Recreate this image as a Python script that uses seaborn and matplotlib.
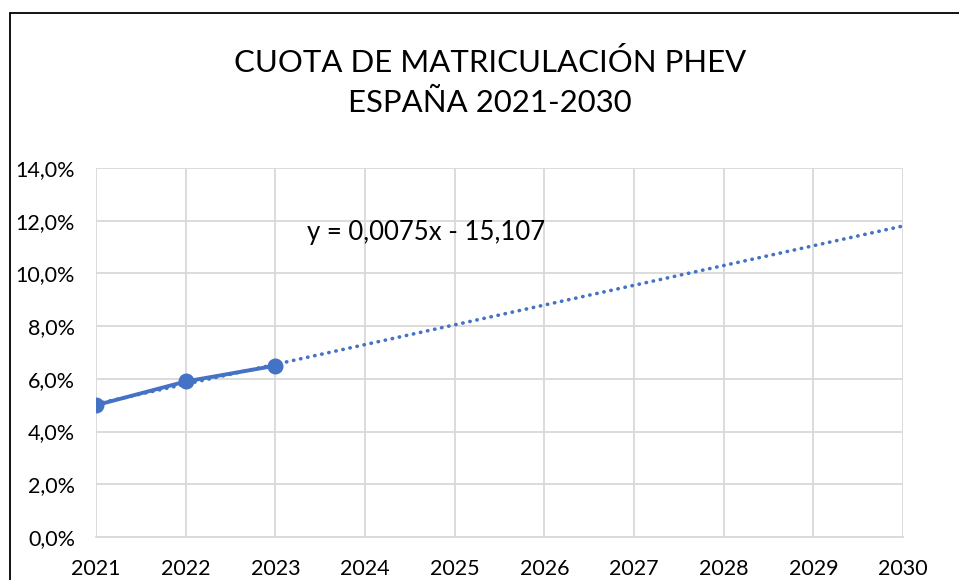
import numpy as np
import pandas as pd
import matplotlib
matplotlib.use("Agg")
import matplotlib.pyplot as plt
import seaborn as sns
from matplotlib.patches import Rectangle
from matplotlib.ticker import FuncFormatter

years = [2021, 2022, 2023]
share = [0.050, 0.059, 0.065]
axis_years = list(range(2021, 2031))
title_lines = ["CUOTA DE MATRICULACIÓN PHEV", "ESPAÑA 2021-2030"]
equation_label = "y = 0,0075x - 15,107"

sns.set_theme(style="white")
plt.rcParams["font.family"] = ["Lato", "DejaVu Sans"]

fig = plt.figure(figsize=(9.59, 5.80), dpi=100)
ax = fig.add_axes([96/959, 1 - 537/580, (903 - 96)/959, (537 - 168)/580])

blue = "#4472C4"
grid = "#D9D9D9"

# trendline (linear fit of data, extended to 2030)
slope, intercept = np.polyfit(years, share, 1)
trend = pd.DataFrame({"year": axis_years,
                      "val": [slope * x + intercept for x in axis_years]})
sns.lineplot(data=trend, x="year", y="val", ax=ax, color=blue, lw=2.6,
             linestyle=(0, (0.1, 1.9)), dash_capstyle="round", zorder=3)

df = pd.DataFrame({"year": years, "val": share})
sns.lineplot(data=df, x="year", y="val", ax=ax, color=blue, lw=2.8,
             marker="o", markersize=11.5, markeredgewidth=0, zorder=4)

ax.set_xlim(2021, 2030)
ax.set_ylim(0, 0.14)
ax.set_xticks(axis_years)
ax.set_yticks(np.arange(0, 0.1401, 0.02))
ax.yaxis.set_major_formatter(FuncFormatter(lambda v, p: f"{v*100:.1f}%".replace(".", ",")))
ax.grid(True, color=grid, lw=1.3)
for s in ax.spines.values():
    s.set_visible(False)
ax.spines["bottom"].set_visible(True)
ax.spines["bottom"].set_color(grid)
ax.spines["bottom"].set_linewidth(1.3)
ax.tick_params(axis="both", length=0, labelsize=15.5, colors="black")
ax.tick_params(axis="x", pad=15.5)
ax.tick_params(axis="y", pad=15)
ax.set_xlabel("")
ax.set_ylabel("")
for lab in ax.get_xticklabels() + ax.get_yticklabels():
    lab.set_color("#000000")

ax.text(2023.35, 0.1157, equation_label, ha="left", va="center", fontsize=18.5, color="black")

fig.text(490/959, 1 - 62/580, title_lines[0], ha="center", va="center", fontsize=22.4, color="black")
fig.text(490/959, 1 - 103/580, title_lines[1], ha="center", va="center", fontsize=22.4, color="black")

fig.patches.append(Rectangle((9.5/959, -0.1), 1.2, (1 + 0.1) - 12.5/580, transform=fig.transFigure,
                             fill=False, edgecolor="black", lw=1.3, zorder=10))

fig.savefig("out.png", dpi=100)
